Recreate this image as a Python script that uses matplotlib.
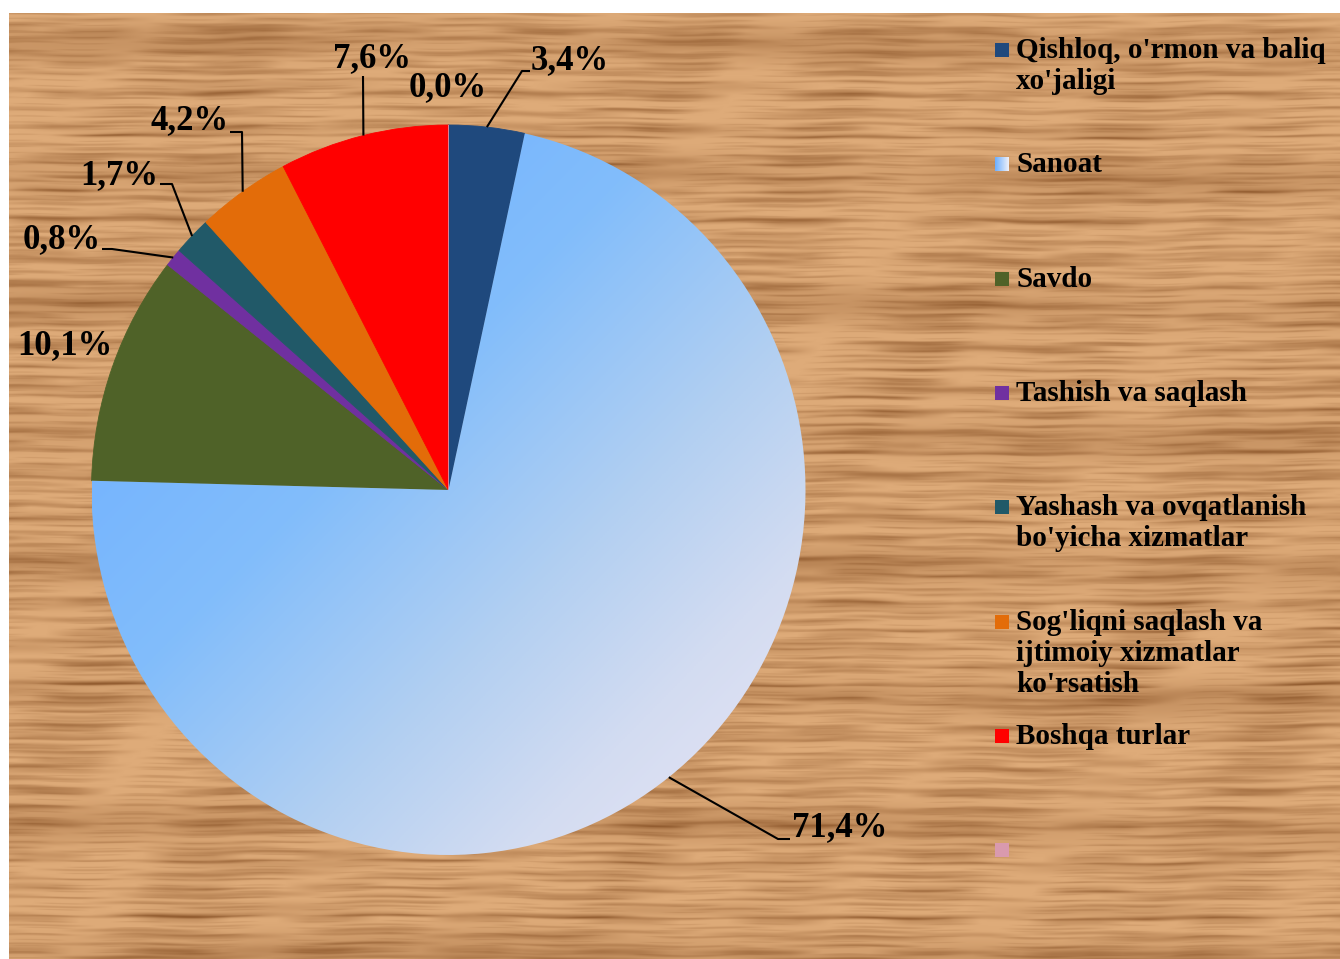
import numpy as np
import matplotlib
matplotlib.use("Agg")
import matplotlib.pyplot as plt
from matplotlib.colors import LinearSegmentedColormap, to_rgb

# ---------------- data ----------------
categories = [
    "Qishloq, o'rmon va baliq\nxo'jaligi",
    "Sanoat",
    "Savdo",
    "Tashish va saqlash",
    "Yashash va ovqatlanish\nbo'yicha xizmatlar",
    "Sog'liqni saqlash va\nijtimoiy xizmatlar\nko'rsatish",
    "Boshqa turlar",
    "",
]
values = [3.4, 71.4, 10.1, 0.8, 1.7, 4.2, 7.6, 0.0]
colors = ["#1F497D", "#8EC2FA", "#4F6228", "#7030A0", "#215968", "#E36C09", "#FF0000", "#D99AAE"]

# label layout (figure pixels): text anchor, and leader elbow points (None = no line)
label_pos = [(531, 61, "left"), (792, 828, "left"), (17, 346, "left"), (101, 240, "right"),
             (158, 176, "right"), (229, 121, "right"), (372, 59, "center"), (448, 88, "center")]
leader = [[(522, 71), (530, 71)], [(778, 839), (790, 839)], None, [(112, 249), (102, 249)],
          [(172, 184), (160, 184)], [(242, 132), (230, 132)], [(363, 76)], None]

W, H = 1340, 959
fig = plt.figure(figsize=(W / 100, H / 100), dpi=100)
fig.patch.set_facecolor("white")

# ---------------- wood background ----------------
ax_bg = fig.add_axes([0, 0, 1, 1], zorder=0)
ax_bg.set_xlim(0, W)
ax_bg.set_ylim(H, 0)
ax_bg.axis("off")
bh, bw = H - 13, W - 9
yy, xx = np.mgrid[0:bh, 0:bw].astype(float)
t = yy + 1.6 * np.sin(xx / 230 + 0.5) + 0.8 * np.sin(xx / 71 + 2.0) + 0.5 * np.sin(xx / 19 + 1)
dark = np.zeros_like(t)
for per, amp, sp, ph in [(9.3, 0.26, 170, 0.3), (13.7, 0.34, 240, 1.7), (21.1, 0.38, 330, 2.9),
                         (31.7, 0.30, 150, 4.1), (6.1, 0.16, 90, 0.9), (17.9, 0.25, 200, 5.3),
                         (43.3, 0.22, 420, 3.6)]:
    band = np.clip(np.sin(2 * np.pi * t / per + ph), 0, 1) ** 3
    segm = np.clip(0.45 + 0.8 * np.sin(2 * np.pi * xx / sp + t / (per * 3.1) + ph), 0, 1)
    dark += amp * band * segm
broad = np.clip(np.sin(2 * np.pi * t / 130 + 0.3 * np.sin(xx / 300)), 0, 1) ** 2
dark += 0.30 * broad * (0.7 + 0.3 * np.sin(xx / 120 + t / 40))
dark = (dark - dark.min()) / (dark.max() - dark.min())
dark = dark ** 0.9
light_c = np.array(to_rgb("#DEAB79"))
dark_c = np.array(to_rgb("#8F592D"))
wood = light_c * (1 - dark[..., None]) + dark_c * dark[..., None]
ax_bg.imshow(wood, extent=(9, W, H, 13), aspect="auto", interpolation="bilinear")

# ---------------- pie ----------------
cx, cy, rx, ry = 448.5, 490, 357, 365
ax = fig.add_axes([(cx - rx) / W, (H - cy - ry) / H, 2 * rx / W, 2 * ry / H], zorder=1)
wedges, _ = ax.pie(values, colors=colors, startangle=90, counterclock=False, radius=1.0,
                   wedgeprops=dict(linewidth=0.6, edgecolor="none"), normalize=True)
ax.set_aspect("auto")
ax.axis("off")
for w, c in zip(wedges, colors):
    w.set_edgecolor(c)

# gradient fill for the big wedge
gx, gy = np.meshgrid(np.linspace(-1, 1, 400), np.linspace(1, -1, 400))
s = (gx - gy)
grad_cmap = LinearSegmentedColormap.from_list(
    "g", [(0.0, "#72B2FF"), (0.3, "#82BDFB"), (0.6, "#B4D0F1"), (0.8, "#D3DCF1"), (1.0, "#E6E4F6")])
im = ax.imshow(s, extent=(-1, 1, -1, 1), cmap=grad_cmap, vmin=-1.3, vmax=1.8,
               aspect="auto", zorder=wedges[1].get_zorder() + 0.1, interpolation="bilinear")
im.set_clip_path(wedges[1])
wedges[1].set_facecolor("none")
wedges[1].set_edgecolor("none")
ax.set_xlim(-1, 1)
ax.set_ylim(-1, 1)

# ---------------- overlay (labels, legend) ----------------
ov = fig.add_axes([0, 0, 1, 1], zorder=2)
ov.set_xlim(0, W)
ov.set_ylim(H, 0)
ov.axis("off")
ov.patch.set_alpha(0)

FONT = "Liberation Serif"
to_ov = ov.transData.inverted()
for i, (v, w) in enumerate(zip(values, wedges)):
    txt = f"{v:.1f}".replace(".", ",") + "%"
    x, y, ha = label_pos[i]
    ov.text(x, y, txt, ha=ha, va="center", fontsize=25, fontweight="bold",
            family=FONT, color="black")
    if leader[i] is not None:
        ang = np.deg2rad((w.theta1 + w.theta2) / 2)
        p = ax.transData.transform((np.cos(ang), np.sin(ang)))
        sx, sy = to_ov.transform(p)
        pts = [(sx, sy)] + leader[i]
        ov.plot([q[0] for q in pts], [q[1] for q in pts], color="black", lw=1.5,
                solid_capstyle="butt")

# legend
for i, (cat, c) in enumerate(zip(categories, colors)):
    y0 = 50 + i * 114.3
    if i == 1:
        lg = LinearSegmentedColormap.from_list("lg", ["#6FB0FF", "#EEF0F8"])
        ov.imshow(np.linspace(0, 1, 20)[None, :], extent=(995, 1009, y0 + 7, y0 - 7),
                  cmap=lg, aspect="auto")
    else:
        ov.add_patch(plt.Rectangle((995, y0 - 7), 14, 14, facecolor=c, edgecolor="none"))
    if cat:
        ov.text(1016, y0 - 13, cat, ha="left", va="top", fontsize=21, fontweight="bold",
                family=FONT, color="black", linespacing=1.2)
ov.set_xlim(0, W)
ov.set_ylim(H, 0)

fig.savefig("out.png", dpi=100, facecolor="white")
